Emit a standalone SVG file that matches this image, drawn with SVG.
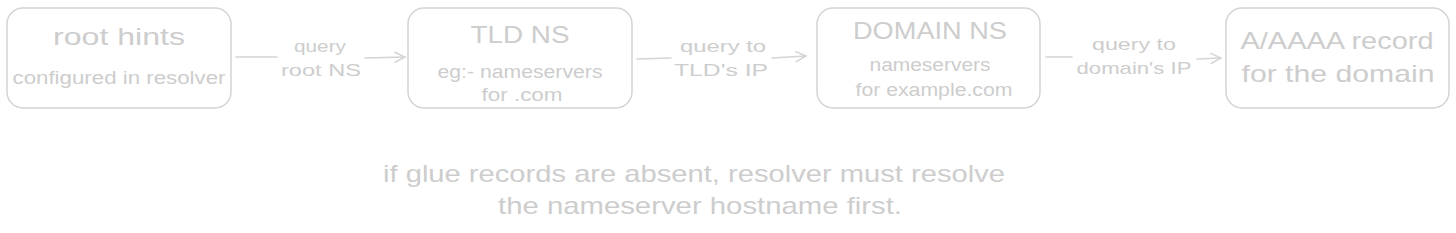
<svg xmlns="http://www.w3.org/2000/svg" width="1456" height="233" viewBox="0 0 1456 233">
<defs>
<style>
.box{fill:none;stroke:#d4d4d4;stroke-width:1.5}
.t{font-family:"Liberation Sans",Arial,sans-serif;fill:#cdcdcd;text-anchor:middle}
.big{font-size:24px}
.sm{font-size:18px}
.lbl{font-size:17px}
.ln{fill:none;stroke:#d4d4d4;stroke-width:1.5;stroke-linecap:round}
</style>
<marker id="ah" viewBox="0 0 12 12" refX="11" refY="6" markerWidth="12" markerHeight="12" markerUnits="userSpaceOnUse" orient="auto">
<path d="M1,1 L11,6 L1,11" fill="none" stroke="#d4d4d4" stroke-width="1.5" stroke-linecap="round"/>
</marker>
</defs>
<rect width="1456" height="233" fill="#ffffff"/>
<g id="node-root">
<rect class="box" x="7" y="8" width="224" height="100" rx="16"/>
<text class="t big" x="119" y="45" textLength="132" lengthAdjust="spacingAndGlyphs">root hints</text>
<text class="t sm" x="119" y="84" textLength="213" lengthAdjust="spacingAndGlyphs">configured in resolver</text>
</g>
<g id="node-tld">
<rect class="box" x="408" y="8" width="224" height="100" rx="16"/>
<text class="t big" x="520" y="43" textLength="99" lengthAdjust="spacingAndGlyphs">TLD NS</text>
<text class="t sm" x="520" y="78" textLength="165" lengthAdjust="spacingAndGlyphs">eg:- nameservers</text>
<text class="t sm" x="522" y="101" textLength="81" lengthAdjust="spacingAndGlyphs">for .com</text>
</g>
<g id="node-domain">
<rect class="box" x="817" y="8" width="223" height="100" rx="16"/>
<text class="t big" x="930" y="39" textLength="154" lengthAdjust="spacingAndGlyphs">DOMAIN NS</text>
<text class="t sm" x="930" y="71" textLength="121" lengthAdjust="spacingAndGlyphs">nameservers</text>
<text class="t sm" x="934" y="96" textLength="157" lengthAdjust="spacingAndGlyphs">for example.com</text>
</g>
<g id="node-record">
<rect class="box" x="1226" y="8" width="223" height="100" rx="16"/>
<text class="t big" x="1337" y="49" textLength="193" lengthAdjust="spacingAndGlyphs">A/AAAA record</text>
<text class="t big" x="1338" y="82" textLength="193" lengthAdjust="spacingAndGlyphs">for the domain</text>
</g>
<g id="connectors">
<path class="ln" d="M236,57 L277,57"/>
<path class="ln" d="M365,58 L405,57" marker-end="url(#ah)"/>
<text class="t lbl" x="320" y="52" textLength="52" lengthAdjust="spacingAndGlyphs">query</text>
<text class="t lbl" x="321" y="76" textLength="80" lengthAdjust="spacingAndGlyphs">root NS</text>
<path class="ln" d="M637,59 L671,58"/>
<path class="ln" d="M772,58 L806,56" marker-end="url(#ah)"/>
<text class="t lbl" x="723" y="52" textLength="86" lengthAdjust="spacingAndGlyphs">query to</text>
<text class="t lbl" x="721" y="76" textLength="94" lengthAdjust="spacingAndGlyphs">TLD's IP</text>
<path class="ln" d="M1046,57 L1072,57"/>
<path class="ln" d="M1197,59 L1221,58" marker-end="url(#ah)"/>
<text class="t lbl" x="1134" y="50" textLength="84" lengthAdjust="spacingAndGlyphs">query to</text>
<text class="t lbl" x="1134" y="74" textLength="115" lengthAdjust="spacingAndGlyphs">domain's IP</text>
</g>
<g id="note">
<text class="t big" x="694" y="182" textLength="622" lengthAdjust="spacingAndGlyphs">if glue records are absent, resolver must resolve</text>
<text class="t big" x="700" y="214" textLength="404" lengthAdjust="spacingAndGlyphs">the nameserver hostname first.</text>
</g>
</svg>
